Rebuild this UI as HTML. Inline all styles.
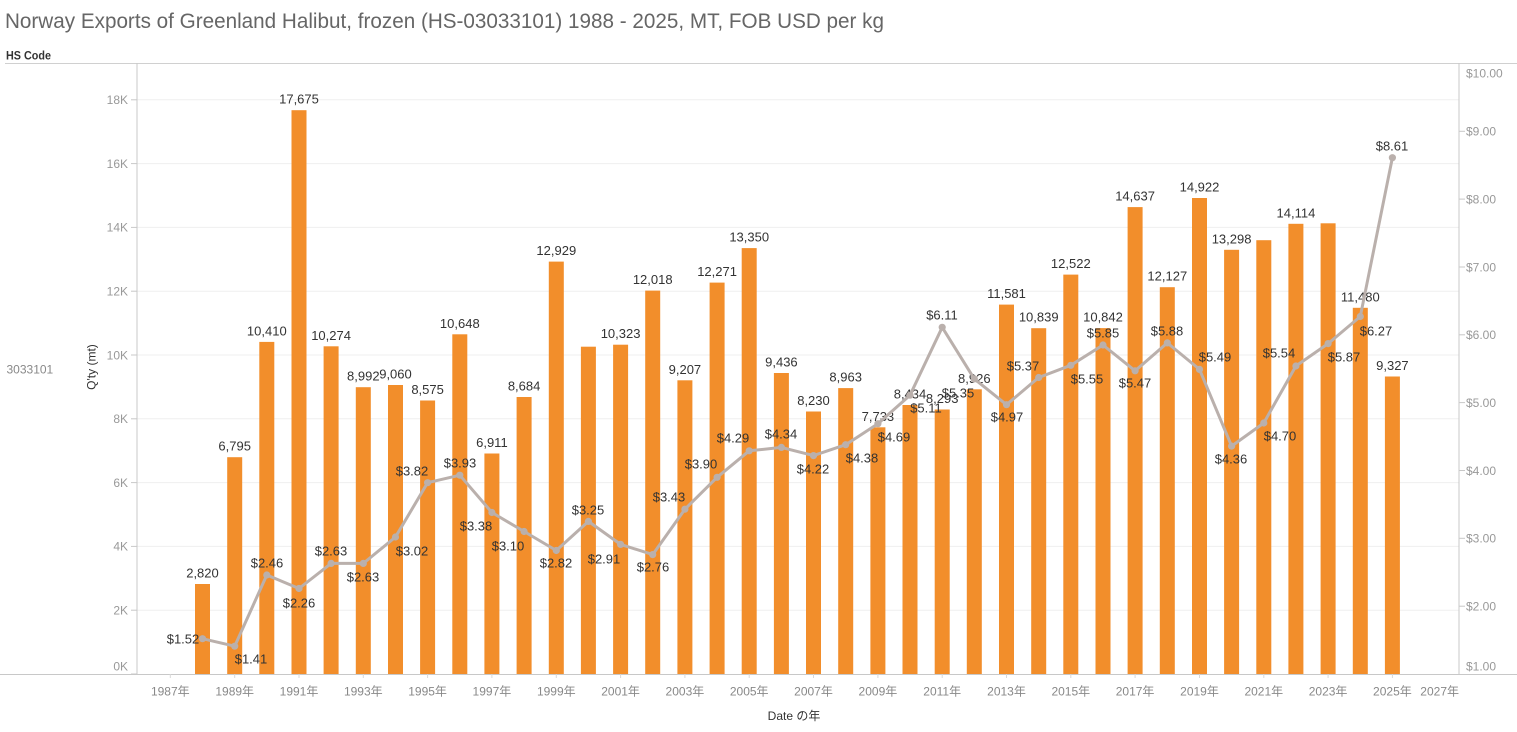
<!DOCTYPE html>
<html>
<head>
<meta charset="utf-8">
<style>
html,body{margin:0;padding:0;background:#fff;}
svg{display:block;font-family:"Liberation Sans","Noto Sans CJK JP",sans-serif;}
.tk{font-size:12px;fill:#999;}
.xl{font-size:12px;fill:#888;text-anchor:middle;}
.bl{font-size:13px;fill:#333;text-anchor:middle;}
.ll{font-size:13px;fill:#333;text-anchor:middle;}
</style>
</head>
<body>
<svg width="1517" height="732" viewBox="0 0 1517 732" xmlns="http://www.w3.org/2000/svg">
<rect width="1517" height="732" fill="#fff"/>
<!-- Title -->
<text x="5" y="28" font-size="21" fill="#666" textLength="879" lengthAdjust="spacingAndGlyphs">Norway Exports of Greenland Halibut, frozen (HS-03033101) 1988 - 2025, MT, FOB USD per kg</text>
<text x="6" y="59.3" font-size="12" font-weight="bold" fill="#333" textLength="45" lengthAdjust="spacingAndGlyphs">HS Code</text>
<line x1="5" y1="63.5" x2="1517" y2="63.5" stroke="#d0d0d0" stroke-width="1"/>

<!-- gridlines -->
<g stroke="#efefef" stroke-width="1">
<line x1="137" x2="1459" y1="610.2" y2="610.2"/>
<line x1="137" x2="1459" y1="546.4" y2="546.4"/>
<line x1="137" x2="1459" y1="482.6" y2="482.6"/>
<line x1="137" x2="1459" y1="418.8" y2="418.8"/>
<line x1="137" x2="1459" y1="355.0" y2="355.0"/>
<line x1="137" x2="1459" y1="291.2" y2="291.2"/>
<line x1="137" x2="1459" y1="227.4" y2="227.4"/>
<line x1="137" x2="1459" y1="163.6" y2="163.6"/>
<line x1="137" x2="1459" y1="99.8" y2="99.8"/>
</g>

<!-- axes lines -->
<line x1="137" y1="63" x2="137" y2="674" stroke="#c8c8c8"/>
<line x1="1459" y1="63" x2="1459" y2="674" stroke="#c8c8c8"/>
<line x1="0" y1="674.5" x2="1517" y2="674.5" stroke="#c8c8c8"/>

<!-- left ticks -->
<g stroke="#c8c8c8">
<line x1="131" x2="137" y1="674" y2="674"/>
<line x1="131" x2="137" y1="610.2" y2="610.2"/>
<line x1="131" x2="137" y1="546.4" y2="546.4"/>
<line x1="131" x2="137" y1="482.6" y2="482.6"/>
<line x1="131" x2="137" y1="418.8" y2="418.8"/>
<line x1="131" x2="137" y1="355.0" y2="355.0"/>
<line x1="131" x2="137" y1="291.2" y2="291.2"/>
<line x1="131" x2="137" y1="227.4" y2="227.4"/>
<line x1="131" x2="137" y1="163.6" y2="163.6"/>
<line x1="131" x2="137" y1="99.8" y2="99.8"/>
</g>
<g class="tk" text-anchor="end">
<text x="128" y="670.3">0K</text>
<text x="128" y="614.5">2K</text>
<text x="128" y="550.7">4K</text>
<text x="128" y="486.9">6K</text>
<text x="128" y="423.1">8K</text>
<text x="128" y="359.3">10K</text>
<text x="128" y="295.5">12K</text>
<text x="128" y="231.7">14K</text>
<text x="128" y="167.9">16K</text>
<text x="128" y="104.1">18K</text>
</g>

<!-- right ticks -->
<g stroke="#c8c8c8">
<line x1="1459" x2="1465" y1="606.2" y2="606.2"/>
<line x1="1459" x2="1465" y1="538.3" y2="538.3"/>
<line x1="1459" x2="1465" y1="470.5" y2="470.5"/>
<line x1="1459" x2="1465" y1="402.6" y2="402.6"/>
<line x1="1459" x2="1465" y1="334.8" y2="334.8"/>
<line x1="1459" x2="1465" y1="267.0" y2="267.0"/>
<line x1="1459" x2="1465" y1="199.1" y2="199.1"/>
<line x1="1459" x2="1465" y1="131.3" y2="131.3"/>
</g>
<g class="tk">
<text x="1466" y="670.3">$1.00</text>
<text x="1466" y="610.5">$2.00</text>
<text x="1466" y="542.6">$3.00</text>
<text x="1466" y="474.8">$4.00</text>
<text x="1466" y="406.9">$5.00</text>
<text x="1466" y="339.1">$6.00</text>
<text x="1466" y="271.3">$7.00</text>
<text x="1466" y="203.4">$8.00</text>
<text x="1466" y="135.6">$9.00</text>
<text x="1466" y="77.3">$10.00</text>
</g>

<!-- left pane -->
<text x="6.5" y="373.3" font-size="12" fill="#888">3033101</text>
<text transform="translate(95.5,367) rotate(-90)" font-size="12" fill="#333" text-anchor="middle">Q'ty (mt)</text>

<!-- x ticks -->
<g stroke="#d8d8d8">
<line x1="170.3" x2="170.3" y1="674" y2="678"/>
<line x1="234.7" x2="234.7" y1="674" y2="678"/>
<line x1="299.0" x2="299.0" y1="674" y2="678"/>
<line x1="363.3" x2="363.3" y1="674" y2="678"/>
<line x1="427.6" x2="427.6" y1="674" y2="678"/>
<line x1="491.9" x2="491.9" y1="674" y2="678"/>
<line x1="556.3" x2="556.3" y1="674" y2="678"/>
<line x1="620.6" x2="620.6" y1="674" y2="678"/>
<line x1="684.9" x2="684.9" y1="674" y2="678"/>
<line x1="749.2" x2="749.2" y1="674" y2="678"/>
<line x1="813.5" x2="813.5" y1="674" y2="678"/>
<line x1="877.9" x2="877.9" y1="674" y2="678"/>
<line x1="942.2" x2="942.2" y1="674" y2="678"/>
<line x1="1006.5" x2="1006.5" y1="674" y2="678"/>
<line x1="1070.8" x2="1070.8" y1="674" y2="678"/>
<line x1="1135.1" x2="1135.1" y1="674" y2="678"/>
<line x1="1199.5" x2="1199.5" y1="674" y2="678"/>
<line x1="1263.8" x2="1263.8" y1="674" y2="678"/>
<line x1="1328.1" x2="1328.1" y1="674" y2="678"/>
<line x1="1392.4" x2="1392.4" y1="674" y2="678"/>
</g>
<g class="xl">
<text x="170.3" y="695.5">1987年</text>
<text x="234.7" y="695.5">1989年</text>
<text x="299.0" y="695.5">1991年</text>
<text x="363.3" y="695.5">1993年</text>
<text x="427.6" y="695.5">1995年</text>
<text x="491.9" y="695.5">1997年</text>
<text x="556.3" y="695.5">1999年</text>
<text x="620.6" y="695.5">2001年</text>
<text x="684.9" y="695.5">2003年</text>
<text x="749.2" y="695.5">2005年</text>
<text x="813.5" y="695.5">2007年</text>
<text x="877.9" y="695.5">2009年</text>
<text x="942.2" y="695.5">2011年</text>
<text x="1006.5" y="695.5">2013年</text>
<text x="1070.8" y="695.5">2015年</text>
<text x="1135.1" y="695.5">2017年</text>
<text x="1199.5" y="695.5">2019年</text>
<text x="1263.8" y="695.5">2021年</text>
<text x="1328.1" y="695.5">2023年</text>
<text x="1392.4" y="695.5">2025年</text>
<text x="1459" y="695.5" text-anchor="end">2027年</text>
</g>
<text x="794" y="720" font-size="12" fill="#333" text-anchor="middle">Date の年</text>

<!-- bars -->
<g fill="#f28e2b">
<rect x="195.0" y="584.0" width="15" height="90.0"/>
<rect x="227.2" y="457.2" width="15" height="216.8"/>
<rect x="259.3" y="341.9" width="15" height="332.1"/>
<rect x="291.5" y="110.2" width="15" height="563.8"/>
<rect x="323.6" y="346.3" width="15" height="327.7"/>
<rect x="355.8" y="387.2" width="15" height="286.8"/>
<rect x="388.0" y="385.0" width="15" height="289.0"/>
<rect x="420.1" y="400.5" width="15" height="273.5"/>
<rect x="452.3" y="334.3" width="15" height="339.7"/>
<rect x="484.4" y="453.5" width="15" height="220.5"/>
<rect x="516.6" y="397.0" width="15" height="277.0"/>
<rect x="548.8" y="261.6" width="15" height="412.4"/>
<rect x="580.9" y="346.7" width="15" height="327.3"/>
<rect x="613.1" y="344.7" width="15" height="329.3"/>
<rect x="645.2" y="290.6" width="15" height="383.4"/>
<rect x="677.4" y="380.3" width="15" height="293.7"/>
<rect x="709.6" y="282.6" width="15" height="391.4"/>
<rect x="741.7" y="248.1" width="15" height="425.9"/>
<rect x="773.9" y="373.0" width="15" height="301.0"/>
<rect x="806.0" y="411.5" width="15" height="262.5"/>
<rect x="838.2" y="388.1" width="15" height="285.9"/>
<rect x="870.4" y="427.3" width="15" height="246.7"/>
<rect x="902.5" y="405.0" width="15" height="269.0"/>
<rect x="934.7" y="409.5" width="15" height="264.5"/>
<rect x="966.8" y="389.3" width="15" height="284.7"/>
<rect x="999.0" y="304.6" width="15" height="369.4"/>
<rect x="1031.2" y="328.2" width="15" height="345.8"/>
<rect x="1063.3" y="274.6" width="15" height="399.4"/>
<rect x="1095.5" y="328.1" width="15" height="345.9"/>
<rect x="1127.6" y="207.1" width="15" height="466.9"/>
<rect x="1159.8" y="287.2" width="15" height="386.8"/>
<rect x="1192.0" y="198.0" width="15" height="476.0"/>
<rect x="1224.1" y="249.8" width="15" height="424.2"/>
<rect x="1256.3" y="240.2" width="15" height="433.8"/>
<rect x="1288.4" y="223.8" width="15" height="450.2"/>
<rect x="1320.6" y="223.3" width="15" height="450.7"/>
<rect x="1352.8" y="307.8" width="15" height="366.2"/>
<rect x="1384.9" y="376.5" width="15" height="297.5"/>
</g>

<!-- bar labels -->
<g class="bl">
<text x="202.5" y="577.5">2,820</text>
<text x="234.7" y="450.7">6,795</text>
<text x="266.8" y="335.4">10,410</text>
<text x="299.0" y="103.7">17,675</text>
<text x="331.1" y="339.8">10,274</text>
<text x="363.3" y="380.7">8,992</text>
<text x="395.5" y="378.5">9,060</text>
<text x="427.6" y="394.0">8,575</text>
<text x="459.8" y="327.8">10,648</text>
<text x="491.9" y="447.0">6,911</text>
<text x="524.1" y="390.5">8,684</text>
<text x="556.3" y="255.1">12,929</text>
<text x="620.6" y="338.2">10,323</text>
<text x="652.7" y="284.1">12,018</text>
<text x="684.9" y="373.8">9,207</text>
<text x="717.1" y="276.1">12,271</text>
<text x="749.2" y="241.6">13,350</text>
<text x="781.4" y="366.5">9,436</text>
<text x="813.5" y="405.0">8,230</text>
<text x="845.7" y="381.6">8,963</text>
<text x="877.9" y="420.8">7,733</text>
<text x="910.0" y="398.5">8,434</text>
<text x="942.2" y="403.0">8,293</text>
<text x="974.3" y="382.8">8,926</text>
<text x="1006.5" y="298.1">11,581</text>
<text x="1038.7" y="321.7">10,839</text>
<text x="1070.8" y="268.1">12,522</text>
<text x="1103.0" y="321.6">10,842</text>
<text x="1135.1" y="200.6">14,637</text>
<text x="1167.3" y="280.7">12,127</text>
<text x="1199.5" y="191.5">14,922</text>
<text x="1231.6" y="243.3">13,298</text>
<text x="1295.9" y="217.3">14,114</text>
<text x="1360.3" y="301.3">11,480</text>
<text x="1392.4" y="370.0">9,327</text>
</g>

<!-- line -->
<polyline fill="none" stroke="#bab0ac" stroke-width="3" stroke-linejoin="round" points="202.5,638.7 234.7,646.2 266.8,575.0 299.0,588.5 331.1,563.4 363.3,563.4 395.5,537.0 427.6,482.7 459.8,475.2 491.9,512.5 524.1,531.5 556.3,550.5 588.4,521.4 620.6,544.4 652.7,554.6 684.9,509.2 717.1,477.3 749.2,450.8 781.4,447.4 813.5,455.6 845.7,444.7 877.9,423.7 910.0,395.2 942.2,327.3 974.3,378.9 1006.5,404.7 1038.7,377.5 1070.8,365.3 1103.0,345.0 1135.1,370.8 1167.3,342.9 1199.5,369.4 1231.6,446.1 1263.8,423.0 1295.9,366.0 1328.1,343.6 1360.3,316.5 1392.4,157.7"/>
<g fill="#bab0ac">
<circle cx="202.5" cy="638.7" r="3.6"/>
<circle cx="234.7" cy="646.2" r="3.6"/>
<circle cx="266.8" cy="575.0" r="3.6"/>
<circle cx="299.0" cy="588.5" r="3.6"/>
<circle cx="331.1" cy="563.4" r="3.6"/>
<circle cx="363.3" cy="563.4" r="3.6"/>
<circle cx="395.5" cy="537.0" r="3.6"/>
<circle cx="427.6" cy="482.7" r="3.6"/>
<circle cx="459.8" cy="475.2" r="3.6"/>
<circle cx="491.9" cy="512.5" r="3.6"/>
<circle cx="524.1" cy="531.5" r="3.6"/>
<circle cx="556.3" cy="550.5" r="3.6"/>
<circle cx="588.4" cy="521.4" r="3.6"/>
<circle cx="620.6" cy="544.4" r="3.6"/>
<circle cx="652.7" cy="554.6" r="3.6"/>
<circle cx="684.9" cy="509.2" r="3.6"/>
<circle cx="717.1" cy="477.3" r="3.6"/>
<circle cx="749.2" cy="450.8" r="3.6"/>
<circle cx="781.4" cy="447.4" r="3.6"/>
<circle cx="813.5" cy="455.6" r="3.6"/>
<circle cx="845.7" cy="444.7" r="3.6"/>
<circle cx="877.9" cy="423.7" r="3.6"/>
<circle cx="910.0" cy="395.2" r="3.6"/>
<circle cx="942.2" cy="327.3" r="3.6"/>
<circle cx="974.3" cy="378.9" r="3.6"/>
<circle cx="1006.5" cy="404.7" r="3.6"/>
<circle cx="1038.7" cy="377.5" r="3.6"/>
<circle cx="1070.8" cy="365.3" r="3.6"/>
<circle cx="1103.0" cy="345.0" r="3.6"/>
<circle cx="1135.1" cy="370.8" r="3.6"/>
<circle cx="1167.3" cy="342.9" r="3.6"/>
<circle cx="1199.5" cy="369.4" r="3.6"/>
<circle cx="1231.6" cy="446.1" r="3.6"/>
<circle cx="1263.8" cy="423.0" r="3.6"/>
<circle cx="1295.9" cy="366.0" r="3.6"/>
<circle cx="1328.1" cy="343.6" r="3.6"/>
<circle cx="1360.3" cy="316.5" r="3.6"/>
<circle cx="1392.4" cy="157.7" r="3.6"/>
</g>

<!-- line labels -->
<g class="ll">
<text x="183" y="643.7">$1.52</text>
<text x="251" y="663.7">$1.41</text>
<text x="267" y="567.7">$2.46</text>
<text x="299" y="607.7">$2.26</text>
<text x="331" y="555.7">$2.63</text>
<text x="363" y="581.7">$2.63</text>
<text x="412" y="555.7">$3.02</text>
<text x="412" y="475.7">$3.82</text>
<text x="460" y="467.7">$3.93</text>
<text x="476" y="530.7">$3.38</text>
<text x="508" y="550.7">$3.10</text>
<text x="556" y="567.7">$2.82</text>
<text x="588" y="514.7">$3.25</text>
<text x="604" y="563.7">$2.91</text>
<text x="653" y="571.4">$2.76</text>
<text x="669" y="501.4">$3.43</text>
<text x="701" y="468.7">$3.90</text>
<text x="733" y="442.7">$4.29</text>
<text x="781" y="438.7">$4.34</text>
<text x="813" y="473.7">$4.22</text>
<text x="862" y="462.7">$4.38</text>
<text x="894" y="441.7">$4.69</text>
<text x="926" y="412.7">$5.11</text>
<text x="942" y="319.7">$6.11</text>
<text x="958" y="397.7">$5.35</text>
<text x="1007" y="421.7">$4.97</text>
<text x="1023" y="370.7">$5.37</text>
<text x="1087" y="383.7">$5.55</text>
<text x="1103" y="337.7">$5.85</text>
<text x="1135" y="387.7">$5.47</text>
<text x="1167" y="335.7">$5.88</text>
<text x="1215" y="361.4">$5.49</text>
<text x="1231" y="463.7">$4.36</text>
<text x="1280" y="440.4">$4.70</text>
<text x="1279" y="357.7">$5.54</text>
<text x="1344" y="361.4">$5.87</text>
<text x="1376" y="335.7">$6.27</text>
<text x="1392" y="150.7">$8.61</text>
</g>
</svg>
</body>
</html>
